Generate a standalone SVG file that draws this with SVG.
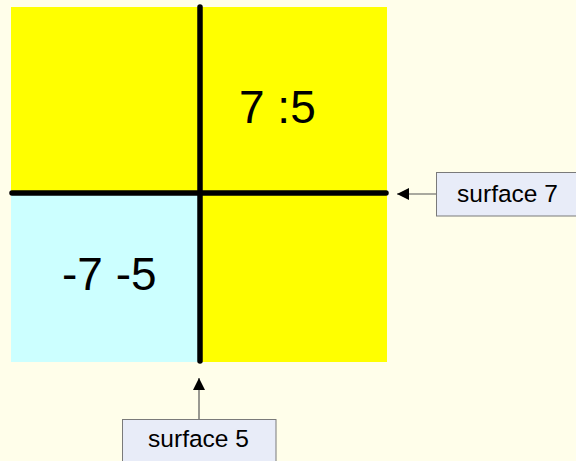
<svg xmlns="http://www.w3.org/2000/svg" width="576" height="461" viewBox="0 0 576 461">
<style>
.big{font-family:"Liberation Sans",Arial,sans-serif;font-size:46px;fill:#000}
.lbl{font-family:"Liberation Sans",Arial,sans-serif;font-size:24.5px;fill:#000;text-anchor:middle}
.box{fill:#e8ecf8;stroke:#7a7a7a;stroke-width:1}
.wall{stroke:#000;stroke-width:5.5;stroke-linecap:round;fill:none}
.conn{stroke:#555;stroke-width:1.2;fill:none}
</style>
<defs>
<marker id="ah" viewBox="0 0 12 12" refX="12" refY="6" markerWidth="12" markerHeight="12" markerUnits="userSpaceOnUse" orient="auto">
<path d="M0,0 L12,6 L0,12 Z" fill="#000"/>
</marker>
</defs>
<rect width="576" height="461" fill="#fffeea"/>
<g id="regions">
<rect x="11" y="7" width="376" height="355" fill="#ffff00"/>
<rect x="11" y="193" width="189" height="169" fill="#ccffff"/>
<path class="wall" d="M200,7 V361"/>
<path class="wall" d="M12,193 H386"/>
<text class="big" x="239" y="123">7 :5</text>
<text class="big" x="62" y="290">-7 -5</text>
</g>
<g id="connectors">
<path class="conn" d="M436,194 H397" marker-end="url(#ah)"/>
<path class="conn" d="M199,419 V378" marker-end="url(#ah)"/>
</g>
<g id="surface7">
<rect class="box" x="436.5" y="172.5" width="143" height="43.5"/>
<text class="lbl" x="507.5" y="202">surface 7</text>
</g>
<g id="surface5">
<rect class="box" x="122.5" y="419.5" width="153.5" height="45"/>
<text class="lbl" x="198.5" y="447">surface 5</text>
</g>
</svg>
